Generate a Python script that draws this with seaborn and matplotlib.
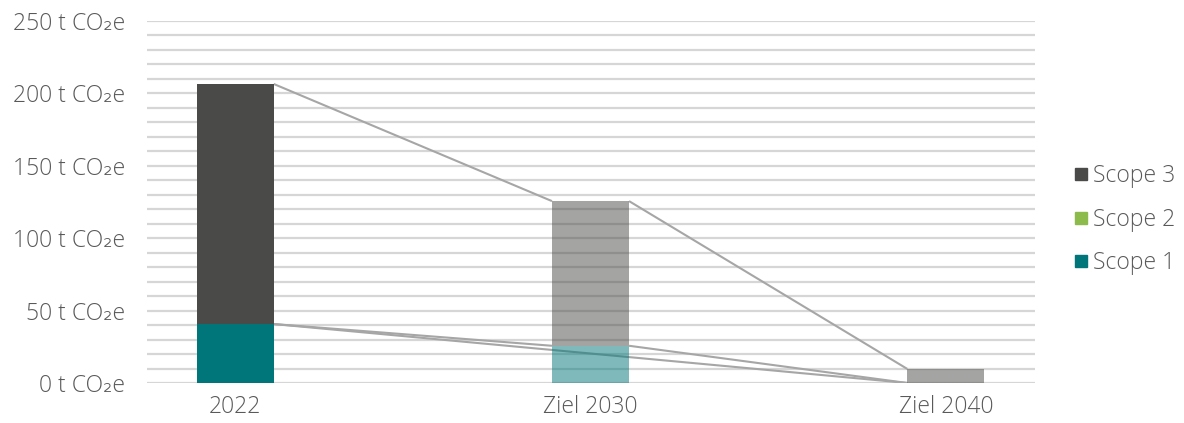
import numpy as np
import matplotlib
matplotlib.use("Agg")
import matplotlib.pyplot as plt
import seaborn as sns
from matplotlib.lines import Line2D

# Daten (t CO2e)
kategorien = ["2022", "Ziel 2030", "Ziel 2040"]
scope1 = [40.7, 25.7, 0.0]
scope2 = [0.0, np.nan, 0.0]
scope3 = [165.8, 99.9, 9.7]
serien = ["Scope 1", "Scope 2", "Scope 3"]
farben = {"Scope 1": "#00757a", "Scope 2": "#8cbb4c", "Scope 3": "#4a4a48"}
transparenz = [1.0, 0.5, 0.5]  # Zielwerte heller

sns.set_theme(style="white")
plt.rcParams["font.family"] = ["Open Sans", "DejaVu Sans"]
plt.rcParams["font.weight"] = "light"
textfarbe = "#595959"
schrift = 16.5

fig = plt.figure(figsize=(11.84, 4.23), dpi=100)
ax = fig.add_axes([0.1242, 0.0946, 0.7497, 0.8558])

x = np.arange(len(kategorien))
breite = 0.217
werte = [scope1, scope2, scope3]

# gestapelte Balken
unten = np.zeros(len(kategorien))
oberkanten = []
for name, w in zip(serien, werte):
    w = np.array(w, dtype=float)
    hoehe = np.nan_to_num(w)
    cols = [matplotlib.colors.to_rgba(farben[name], a) for a in transparenz]
    ax.bar(x, hoehe, width=breite, bottom=unten, color=cols, linewidth=0, zorder=3)
    unten = unten + hoehe
    oben = np.where(np.isnan(w), np.nan, unten)
    oberkanten.append(oben)

# Reihenverbindungslinien
for oben in oberkanten:
    gueltig = [i for i in range(len(x)) if not np.isnan(oben[i])]
    for a, b in zip(gueltig[:-1], gueltig[1:]):
        ax.plot([x[a] + breite / 2, x[b] - breite / 2], [oben[a], oben[b]],
                color="#a6a6a6", lw=1.5, zorder=2, solid_capstyle="butt")

# Gitter
ax.set_ylim(0, 250)
ax.set_xlim(-0.248, 2.25)
ax.set_yticks(np.arange(0, 251, 50))
ax.set_yticks(np.arange(0, 251, 10), minor=True)
ax.yaxis.grid(True, which="both", color="#d6d6d6", lw=1.6, zorder=0)
ax.set_axisbelow(True)
ax.set_yticklabels([f"{v} t CO₂e" for v in range(0, 251, 50)])
ax.set_xticks(x)
ax.set_xticklabels(kategorien)
ax.tick_params(axis="y", which="both", length=0, pad=16, labelsize=schrift, labelcolor=textfarbe)
ax.tick_params(axis="x", length=0, pad=9, labelsize=schrift, labelcolor=textfarbe)
for s in ax.spines.values():
    s.set_visible(False)

# Legende
handles = [Line2D([], [], marker="s", ls="", markersize=8.5, color=farben[n]) for n in serien[::-1]]
fig.legend(handles, serien[::-1], loc="center left", bbox_to_anchor=(0.886, 0.48),
           frameon=False, fontsize=schrift, labelcolor=textfarbe, handletextpad=0.0,
           labelspacing=0.85, handlelength=1.0)

fig.savefig("out.png", dpi=100)
